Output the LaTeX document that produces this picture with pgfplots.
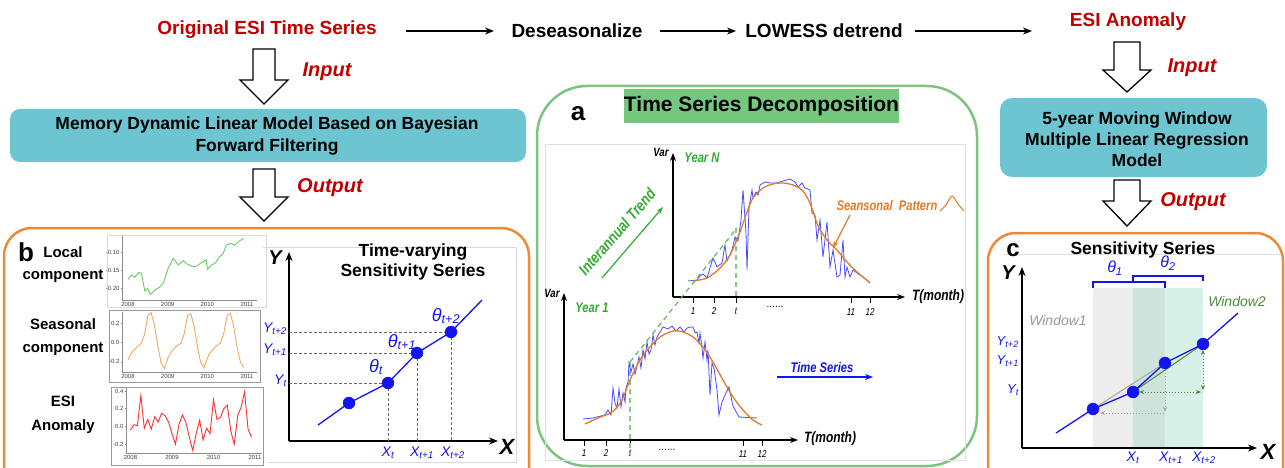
\documentclass[border=0pt]{standalone}
\usepackage{pgfplots}
\pgfplotsset{compat=1.18}
\usetikzlibrary{arrows.meta}
\usepackage{fontspec}
\setmainfont{Liberation Sans}
\newfontfamily\nf[FakeStretch=0.8]{Liberation Sans}
\newcommand\fs[1]{\fontsize{#1}{#1}\selectfont}
\newcommand\dd{.\kern1pt.\kern1pt.\kern1pt.\kern1pt.\kern1pt.}
\definecolor{dred}{HTML}{C00000}
\definecolor{tealbox}{HTML}{6CC5D0}
\definecolor{orgb}{HTML}{EE8A35}
\definecolor{grnb}{HTML}{7CC47F}
\definecolor{titg}{HTML}{74C87E}
\definecolor{bl}{HTML}{1414F0}
\definecolor{ylg}{HTML}{33AA33}
\definecolor{orc}{HTML}{E07B28}
\definecolor{bln}{HTML}{4A4AFF}
\definecolor{sgreen}{HTML}{66CC66}
\definecolor{sorange}{HTML}{F0A868}
\definecolor{sred}{HTML}{FF3030}
\definecolor{ovl}{HTML}{CDE3DC}
\definecolor{tlt}{HTML}{D7F1E8}
\definecolor{w2}{HTML}{4B8B3B}
\pgfplotsset{smallplot/.style={scale only axis, axis lines=left,
  axis line style={-, draw=black!45, line width=0.5pt},
  tick style={draw=black!45, line width=0.5pt}, major tick length=1.5pt,
  tick align=outside, xtick={2008,2009,2010,2011}, xticklabels={2008,2009,2010,2011},
  tick label style={font=\fs{6}, text=black!75, inner sep=0.8pt},
  /pgf/number format/assume math mode=true, clip=false, no markers}}
\begin{document}
\begin{tikzpicture}
\begin{axis}[name=canvas, at={(0,0)}, anchor=south west, scale only axis,
  width=1285pt, height=468pt, xmin=0, xmax=1285, ymin=0, ymax=468,
  y dir=reverse, hide axis, clip=false, no markers]
% ---------- frames of the three panels
\draw[orgb, line width=2.5pt, rounded corners=28pt, fill=white] (4,228) rectangle (529,500);
\draw[grnb, line width=2.5pt, rounded corners=50pt, fill=white] (537,86) rectangle (977,466);
\draw[orgb, line width=2.5pt, rounded corners=28pt, fill=white] (988,233) rectangle (1283,500);
% ---------- top row
\node[font=\bfseries\fs{19}, text=dred, inner sep=0] at (267,30) {Original ESI Time Series};
\node[font=\bfseries\fs{19}, inner sep=0] at (577,31) {Deseasonalize};
\node[font=\bfseries\fs{19}, inner sep=0] at (824,31) {LOWESS detrend};
\node[font=\bfseries\fs{19}, text=dred, inner sep=0] at (1128,22) {ESI Anomaly};
\draw[line width=1.5pt, -{Stealth[length=9pt,width=7pt]}] (406,31) -- (494,31);
\draw[line width=1.5pt, -{Stealth[length=9pt,width=7pt]}] (660,31) -- (736,31);
\draw[line width=1.5pt, -{Stealth[length=9pt,width=7pt]}] (915,31) -- (1032,31);
% ---------- hollow arrows
\draw[fill=white, line width=1.3pt] (253,49) -- (275,49) -- (275,80) -- (288,80) -- (264,104) -- (240,80) -- (253,80) -- cycle;
\draw[fill=white, line width=1.3pt] (253,169) -- (275,169) -- (275,197) -- (288,197) -- (264,221) -- (240,197) -- (253,197) -- cycle;
\draw[fill=white, line width=1.3pt] (1114,42) -- (1140,42) -- (1140,70) -- (1151,70) -- (1127,92) -- (1103,70) -- (1114,70) -- cycle;
\draw[fill=white, line width=1.3pt] (1114,180) -- (1140,180) -- (1140,201) -- (1151,201) -- (1127,226) -- (1103,201) -- (1114,201) -- cycle;
\node[font=\bfseries\itshape\fs{20}, text=dred, inner sep=0] at (327,72) {Input};
\node[font=\bfseries\itshape\fs{20}, text=dred, inner sep=0] at (330,188) {Output};
\node[font=\bfseries\itshape\fs{20}, text=dred, inner sep=0] at (1192,68) {Input};
\node[font=\bfseries\itshape\fs{20}, text=dred, inner sep=0] at (1193,202) {Output};
% ---------- teal boxes
\fill[tealbox, rounded corners=10pt] (10,109) rectangle (526,162);
\node[font=\bfseries\fontsize{17.5}{22}\selectfont, align=center, inner sep=0] at (267,136) {Memory Dynamic Linear Model Based on Bayesian\\Forward Filtering};
\fill[tealbox, rounded corners=12pt] (1000,98) rectangle (1267,177);
\node[font=\bfseries\fontsize{17.5}{21}\selectfont, align=center, inner sep=0] at (1137,139) {5-year Moving Window\\Multiple Linear Regression\\Model};
% ---------- panel b
\node[font=\bfseries\fs{26}, inner sep=0] at (26,252) {b};
\node[font=\bfseries\fontsize{15}{22}\selectfont, align=center, inner sep=0] at (63,265) {Local\\component};
\node[font=\bfseries\fontsize{15}{23}\selectfont, align=center, inner sep=0] at (63,337) {Seasonal\\component};
\node[font=\bfseries\fontsize{15}{24}\selectfont, align=center, inner sep=0] at (63,415) {ESI\\Anomaly};
\draw[black!15] (107,235) rectangle (266,307);
\draw[black!40] (109,310) rectangle (260,382);
\draw[black!40] (111,387) rectangle (263,465);
\draw[black!15] (263,247) -- (516,247) -- (516,462) -- (268,462);
\node[font=\bfseries\fontsize{17.5}{20}\selectfont, align=center, inner sep=0] at (413,262) {Time-varying\\Sensitivity Series};
\draw[line width=1.5pt, -{Stealth[length=9pt,width=7pt]}] (289,441) -- (289,252);
\draw[line width=1.5pt, -{Stealth[length=9pt,width=7pt]}] (289,441) -- (498,441);
\node[font=\bfseries\itshape\fs{20}, inner sep=0] at (275,258) {Y};
\node[font=\bfseries\itshape\fs{22}, inner sep=0] at (507,447) {X};
\addplot[black!60, line width=0.6pt, dash pattern=on 3pt off 2pt] coordinates {(289,332) (451,332)};
\addplot[black!60, line width=0.6pt, dash pattern=on 3pt off 2pt] coordinates {(289,353) (417,353)};
\addplot[black!60, line width=0.6pt, dash pattern=on 3pt off 2pt] coordinates {(289,383) (388,383)};
\addplot[black!60, line width=0.6pt, dash pattern=on 3pt off 2pt] coordinates {(451,332) (451,441)};
\addplot[black!60, line width=0.6pt, dash pattern=on 3pt off 2pt] coordinates {(417,353) (417,441)};
\addplot[black!60, line width=0.6pt, dash pattern=on 3pt off 2pt] coordinates {(388,383) (388,441)};
\addplot[bl, line width=1.3pt] coordinates {(318,425) (349,403) (388,383) (417,353) (451,332) (482,300)};
\addplot[bl, only marks, mark=*, mark size=6pt, mark options={fill=bl, draw=bl}] coordinates {(349,403) (388,383) (417,353) (451,332)};
\node[text=bl, font=\itshape\fs{14}, anchor=east, inner sep=0] at (287,329) {Y\textsubscript{t+2}};
\node[text=bl, font=\itshape\fs{14}, anchor=east, inner sep=0] at (287,350) {Y\textsubscript{t+1}};
\node[text=bl, font=\itshape\fs{14}, anchor=east, inner sep=0] at (287,381) {Y\textsubscript{t}};
\node[text=bl, font=\itshape\fs{14}, inner sep=0] at (388,453) {X\textsubscript{t}};
\node[text=bl, font=\itshape\fs{14}, inner sep=0] at (422,453) {X\textsubscript{t+1}};
\node[text=bl, font=\itshape\fs{14}, inner sep=0] at (453,453) {X\textsubscript{t+2}};
\node[text=bl, font=\itshape\fs{18}, inner sep=0] at (376,367) {θ\textsubscript{t}};
\node[text=bl, font=\itshape\fs{18}, inner sep=0] at (402,342) {θ\textsubscript{t+1}};
\node[text=bl, font=\itshape\fs{18}, inner sep=0] at (446,316) {θ\textsubscript{t+2}};
% ---------- panel a
\fill[titg] (624,89) rectangle (899,123);
\node[font=\bfseries\fs{21}, inner sep=0] at (761.5,106) {Time Series Decomposition};
\node[font=\bfseries\fs{26}, inner sep=0] at (578,114) {a};
\draw[black!12] (545,144) rectangle (965,460);
% upper plot (Year N)
\draw[line width=1.2pt, -{Stealth[length=8pt,width=6pt]}] (673,297) -- (673,153);
\draw[line width=1.2pt, -{Stealth[length=8pt,width=6pt]}] (673,297) -- (905,297);
\draw[line width=0.8pt] (693,297) -- (693,303);
\draw[line width=0.8pt] (714,297) -- (714,303);
\draw[line width=0.8pt] (736,297) -- (736,303);
\draw[line width=0.8pt] (851,297) -- (851,303);
\draw[line width=0.8pt] (870,297) -- (870,303);
\node[font=\nf\bfseries\itshape\fs{12}, inner sep=0] at (661,152) {Var};
\node[font=\nf\bfseries\itshape\fs{14}, text=ylg, inner sep=0] at (702,158) {Year N};
\node[font=\nf\bfseries\itshape\fs{15}, inner sep=0] at (938,297) {T(month)};
\node[font=\nf\itshape\fs{10}, inner sep=0] at (693,311) {1};
\node[font=\nf\itshape\fs{10}, inner sep=0] at (714,311) {2};
\node[font=\nf\itshape\fs{10}, inner sep=0] at (736,311) {t};
\node[font=\nf\bfseries\fs{8}, inner sep=0] at (775,307) {\dd};
\node[font=\nf\itshape\fs{10}, inner sep=0] at (851,312) {11};
\node[font=\nf\itshape\fs{10}, inner sep=0] at (870,312) {12};
% lower plot (Year 1)
\draw[line width=1.2pt, -{Stealth[length=8pt,width=6pt]}] (564,440) -- (564,293);
\draw[line width=1.2pt, -{Stealth[length=8pt,width=6pt]}] (564,440) -- (798,440);
\draw[line width=0.8pt] (584,440) -- (584,446);
\draw[line width=0.8pt] (606,440) -- (606,446);
\draw[line width=0.8pt] (630,440) -- (630,446);
\draw[line width=0.8pt] (743,440) -- (743,446);
\draw[line width=0.8pt] (762,440) -- (762,446);
\node[font=\nf\bfseries\itshape\fs{12}, inner sep=0] at (552,293) {Var};
\node[font=\nf\bfseries\itshape\fs{14}, text=ylg, inner sep=0] at (592,308) {Year 1};
\node[font=\nf\bfseries\itshape\fs{15}, inner sep=0] at (830,439) {T(month)};
\node[font=\nf\itshape\fs{10}, inner sep=0] at (584,453) {1};
\node[font=\nf\itshape\fs{10}, inner sep=0] at (606,453) {2};
\node[font=\nf\itshape\fs{10}, inner sep=0] at (630,453) {t};
\node[font=\nf\bfseries\fs{8}, inner sep=0] at (667,450) {\dd};
\node[font=\nf\itshape\fs{10}, inner sep=0] at (743,454) {11};
\node[font=\nf\itshape\fs{10}, inner sep=0] at (762,454) {12};
% trend
\addplot[ylg!80, line width=1.2pt, dash pattern=on 5pt off 4pt] coordinates {(630,362) (737,228)};
\addplot[ylg!60, line width=1.2pt, dash pattern=on 5pt off 4pt] coordinates {(736,228) (736,297)};
\addplot[ylg!60, line width=1.2pt, dash pattern=on 5pt off 4pt] coordinates {(630,362) (630,455)};
\node[rotate=49, font=\nf\bfseries\itshape\fs{16}, text=ylg, inner sep=0] at (617,232) {Interannual Trend};
\draw[ylg, line width=1.2pt, -{Stealth[length=7pt,width=5pt]}] (602,278) -- (663,207);
% series
\addplot[bln, line width=0.8pt] coordinates {(688,281)(697,280)(700,276)(703,274)(707,278)(713,258)(717,267)(722,263)(725,245)(727,261)(732,250)(735,237)(738,241)(741,220)(743,190)(746,233)(747,270)(749,207)(752,190)(753,198)(756,192)(758,195)(760,185)(765,182)(770,183)(777,183)(783,181)(790,179)(795,182)(798,187)(802,183)(805,188)(810,190)(812,213)(815,215)(817,240)(820,220)(823,257)(827,222)(830,267)(833,250)(837,277)(840,275)(843,240)(845,277)(847,267)(850,277)(853,270)(857,273)(867,280)(870,283)};
\addplot[orc, line width=1.3pt, smooth] coordinates {(693,281)(707,278)(720,268)(730,255)(740,232)(747,212)(753,198)(763,188)(773,184)(783,183)(793,185)(802,190)(808,199)(813,211)(818,226)(827,240)(837,250)(847,262)(857,272)(869,282)};
\addplot[bln, line width=0.8pt] coordinates {(583,419)(593,418)(605,415)(608,410)(611,415)(613,388)(615,403)(617,408)(619,389)(621,407)(623,393)(625,402)(626,388)(628,382)(629,363)(631,372)(633,364)(635,374)(637,366)(639,357)(641,368)(643,350)(645,359)(647,342)(649,354)(651,350)(653,335)(655,345)(657,337)(660,332)(663,327)(668,329)(672,326)(676,331)(680,327)(684,332)(687,328)(691,327)(693,327)(695,333)(697,332)(699,343)(700,333)(702,348)(703,358)(705,342)(707,360)(708,350)(710,395)(712,363)(714,368)(717,390)(719,415)(722,402)(725,395)(729,387)(733,406)(739,417)(757,418)};
\addplot[orc, line width=1.3pt, smooth] coordinates {(585,424)(598,418)(612,412)(622,400)(630,380)(640,360)(650,347)(660,337)(673,331)(683,332)(693,337)(703,347)(713,362)(723,380)(733,397)(743,410)(753,420)(762,425)};
\node[font=\nf\bfseries\itshape\fs{14}, text=orc, inner sep=0] at (887,205) {Seansonal\ \ Pattern};
\addplot[orc, line width=1pt, smooth] coordinates {(940,211)(946,205)(952,196)(958,204)(964,211)};
\draw[orc, line width=1.2pt, -{Stealth[length=7pt,width=5pt]}] (850,215) -- (833,248);
\node[font=\nf\bfseries\itshape\fs{14}, text=bl, inner sep=0] at (822,367) {Time Series};
\draw[bl, line width=1.5pt, -{Stealth[length=8pt,width=6pt]}] (777,377) -- (873,377);
% ---------- panel c
\draw[black!12] (1003,254) -- (1281,254);
\node[font=\bfseries\fs{24}, inner sep=0] at (1013,250) {c};
\node[font=\bfseries\fs{17.5}, inner sep=0] at (1143,250) {Sensitivity Series};
\fill[black!7] (1093,288) rectangle (1133,448);
\fill[ovl] (1133,288) rectangle (1165,448);
\fill[tlt] (1165,288) rectangle (1203,448);
\draw[line width=1.5pt, -{Stealth[length=9pt,width=7pt]}] (1022,448) -- (1022,267);
\draw[line width=1.5pt, -{Stealth[length=9pt,width=7pt]}] (1022,448) -- (1257,448);
\node[font=\bfseries\itshape\fs{20}, inner sep=0] at (1008,273) {Y};
\node[font=\bfseries\itshape\fs{22}, inner sep=0] at (1268,452) {X};
\draw[bl, line width=1.2pt] (1093,288) -- (1093,282) -- (1165,282) -- (1165,288);
\draw[bl, line width=1.2pt] (1133,281) -- (1133,276) -- (1203,276) -- (1203,281);
\node[text=bl, font=\itshape\fs{16}, inner sep=0] at (1115,268) {θ\textsubscript{1}};
\node[text=bl, font=\itshape\fs{16}, inner sep=0] at (1168,263) {θ\textsubscript{2}};
\node[text=black!40, font=\itshape\fs{14}, inner sep=0] at (1058,320) {Window1};
\node[text=w2, font=\itshape\fs{14}, inner sep=0] at (1237,301) {Window2};
\draw[black!35, dotted, line width=1pt, {Stealth[length=5pt,width=4pt]}-] (1100,413) -- (1164,413);
\draw[black!35, dotted, line width=1pt, -{Stealth[length=5pt,width=4pt]}] (1165,370) -- (1165,412);
\draw[w2, dotted, line width=1pt, {Stealth[length=5pt,width=4pt]}-{Stealth[length=5pt,width=4pt]}] (1139,392) -- (1201,392);
\draw[w2, dotted, line width=1pt, {Stealth[length=5pt,width=4pt]}-{Stealth[length=5pt,width=4pt]}] (1203,350) -- (1203,390);
\addplot[black!35, line width=1pt] coordinates {(1093,409) (1165,363)};
\addplot[w2, line width=1pt] coordinates {(1133,392) (1203,344)};
\addplot[bl, line width=1.3pt] coordinates {(1056,433) (1093,409) (1133,392) (1165,363) (1203,344) (1238,313)};
\addplot[bl, only marks, mark=*, mark size=6pt, mark options={fill=bl, draw=bl}] coordinates {(1093,409) (1133,392) (1165,363) (1203,344)};
\node[text=bl, font=\itshape\fs{13}, anchor=east, inner sep=0] at (1019,342) {Y\textsubscript{t+2}};
\node[text=bl, font=\itshape\fs{13}, anchor=east, inner sep=0] at (1019,361) {Y\textsubscript{t+1}};
\node[text=bl, font=\itshape\fs{13}, anchor=east, inner sep=0] at (1019,390) {Y\textsubscript{t}};
\node[text=bl, font=\itshape\fs{14}, inner sep=0] at (1133,458) {X\textsubscript{t}};
\node[text=bl, font=\itshape\fs{14}, inner sep=0] at (1171,458) {X\textsubscript{t+1}};
\node[text=bl, font=\itshape\fs{14}, inner sep=0] at (1204,458) {X\textsubscript{t+2}};
\end{axis}
% ---------- small time series of panel b
\begin{axis}[smallplot, at={(122pt,168pt)}, anchor=south west, width=135pt, height=64pt,
  xmin=2007.849, xmax=2011.252, ymin=-0.2333, ymax=-0.0556, ytick={-0.2,-0.15,-0.1},
  yticklabel style={/pgf/number format/fixed, /pgf/number format/fixed zerofill, /pgf/number format/precision=2}]
\addplot[sgreen, line width=0.9pt] table {
2008.000 -0.176
2008.085 -0.164
2008.169 -0.170
2008.279 -0.157
2008.338 -0.159
2008.423 -0.208
2008.490 -0.201
2008.566 -0.218
2008.676 -0.206
2008.786 -0.198
2008.888 -0.187
2009.014 -0.145
2009.141 -0.118
2009.268 -0.136
2009.395 -0.124
2009.496 -0.134
2009.648 -0.141
2009.733 -0.139
2009.885 -0.127
2009.970 -0.122
2010.003 -0.148
2010.113 -0.136
2010.198 -0.131
2010.308 -0.113
2010.392 -0.106
2010.477 -0.081
2010.595 -0.076
2010.680 -0.081
2010.790 -0.071
2010.916 -0.062
};
\end{axis}
\begin{axis}[smallplot, at={(122pt,96pt)}, anchor=south west, width=135pt, height=60pt,
  xmin=2007.849, xmax=2011.252, ymin=-0.306, ymax=0.317, ytick={-0.2,0,0.2},
  yticklabel style={/pgf/number format/fixed, /pgf/number format/fixed zerofill, /pgf/number format/precision=1}]
\addplot[sorange, line width=0.9pt] table {
2008.000 -0.18
2008.083 -0.11
2008.167 -0.07
2008.250 -0.04
2008.333 -0.01
2008.417 0.08
2008.500 0.28
2008.583 0.31
2008.667 0.18
2008.750 -0.03
2008.833 -0.21
2008.917 -0.27
2009.000 -0.17
2009.083 -0.10
2009.167 -0.06
2009.250 -0.03
2009.333 -0.01
2009.417 0.09
2009.500 0.28
2009.583 0.30
2009.667 0.17
2009.750 -0.04
2009.833 -0.21
2009.917 -0.26
2010.000 -0.16
2010.083 -0.10
2010.167 -0.06
2010.250 -0.03
2010.333 0.00
2010.417 0.10
2010.500 0.28
2010.583 0.30
2010.667 0.16
2010.750 -0.05
2010.833 -0.20
2010.917 -0.26
};
\end{axis}
\begin{axis}[smallplot, at={(126pt,15pt)}, anchor=south west, width=136pt, height=65pt,
  xmin=2007.892, xmax=2011.169, ymin=-0.298, ymax=0.433, ytick={-0.2,0,0.2,0.4},
  yticklabel style={/pgf/number format/fixed, /pgf/number format/fixed zerofill, /pgf/number format/precision=1}]
\addplot[sred, line width=0.9pt] table {
2008.000 -0.04
2008.083 0.02
2008.167 0.01
2008.250 0.35
2008.333 -0.02
2008.417 0.08
2008.500 -0.03
2008.583 0.11
2008.667 0.05
2008.750 0.15
2008.833 0.12
2008.917 0.05
2009.000 -0.08
2009.083 -0.20
2009.167 0.02
2009.250 0.13
2009.333 0.05
2009.417 -0.12
2009.500 -0.27
2009.583 -0.08
2009.667 0.07
2009.750 -0.15
2009.833 -0.02
2009.917 -0.08
2010.000 0.30
2010.083 0.08
2010.167 0.10
2010.250 0.20
2010.333 0.24
2010.417 -0.05
2010.500 -0.20
2010.583 0.12
2010.667 0.22
2010.750 0.39
2010.833 -0.03
2010.917 -0.12
};
\end{axis}
\pgfresetboundingbox
\useasboundingbox (0,0) rectangle (1285pt,468pt);
\end{tikzpicture}
\end{document}
